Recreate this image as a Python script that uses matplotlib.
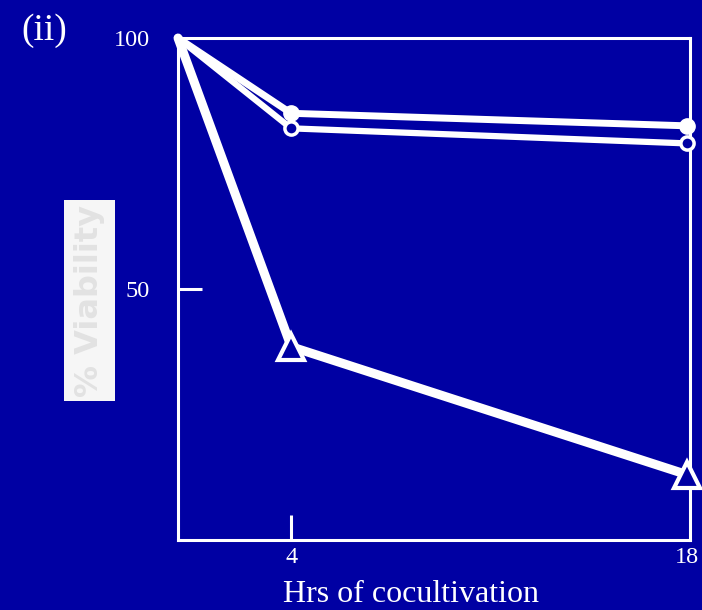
import matplotlib
matplotlib.use("Agg")
import matplotlib.pyplot as plt
from matplotlib.patches import Rectangle

# === data ===
hours = [0, 4, 18]
filled_circle = [100, 85, 82.5]
open_circle = [100, 82, 79]
triangle = [100, 38.5, 13]

bg = "#0000a3"
plt.rcParams["font.family"] = ["Liberation Serif", "DejaVu Serif"]

fig = plt.figure(figsize=(7.02, 6.10), dpi=100, facecolor=bg)
ax = fig.add_axes([0.2536, 0.1148, 0.7294, 0.8229], facecolor=bg)

# lines
ax.plot(hours, triangle, color="white", lw=6.5, solid_capstyle="round", zorder=3, clip_on=False)
ax.plot(hours, open_circle, color="white", lw=4.5, solid_capstyle="round", zorder=4, clip_on=False)
ax.plot(hours, filled_circle, color="white", lw=5, solid_capstyle="round", zorder=4, clip_on=False)

# markers (skip the common start point)
ax.plot(hours[1:], filled_circle[1:], "o", ms=11, mfc="white", mec="white", zorder=5, clip_on=False)
ax.plot(hours[1:], open_circle[1:], "o", ms=9.5, mfc=bg, mec="white", mew=2.5, zorder=6, clip_on=False)
ax.plot(hours[1:], triangle[1:], "^", ms=19, mfc=bg, mec="white", mew=3, zorder=6, clip_on=False)

ax.set_xlim(0, 18.1)
ax.set_ylim(0, 100)

for s in ax.spines.values():
    s.set_color("white")
    s.set_linewidth(2.2)

ax.set_xticks([4, 18])
ax.set_xticklabels(["4", "18"])
ax.set_yticks([50, 100])
ax.set_yticklabels(["50", "100"])
ax.tick_params(axis="x", direction="in", length=18, width=2.2, color="white",
               labelcolor="white", labelsize=17.5, pad=5)
ax.tick_params(axis="y", direction="in", length=17, width=2.2, color="white",
               labelcolor="white", labelsize=17.5, pad=20)
# hide the ticks at the frame edges
ax.xaxis.get_major_ticks()[1].tick1line.set_visible(False)
ax.yaxis.get_major_ticks()[1].tick1line.set_visible(False)

fig.text(411 / 702, 1 - 595 / 610, "Hrs of cocultivation", color="white",
         fontsize=23, ha="center", va="center")
fig.text(44 / 702, 1 - 31 / 610, "(ii)", color="white", fontsize=27,
         ha="center", va="center")

# faded y label box
fig.patches.append(Rectangle((64 / 702, 1 - 401 / 610), 51 / 702, 201 / 610,
                             transform=fig.transFigure, facecolor="#f6f6f6",
                             edgecolor="none", zorder=1))
fig.text(90 / 702, 1 - 301 / 610, "% Viability", color="#e2e2e2", fontsize=23,
         fontweight="bold", family="DejaVu Sans", rotation=90,
         ha="center", va="center", zorder=2)

fig.savefig("out.png", dpi=100, facecolor=bg)
